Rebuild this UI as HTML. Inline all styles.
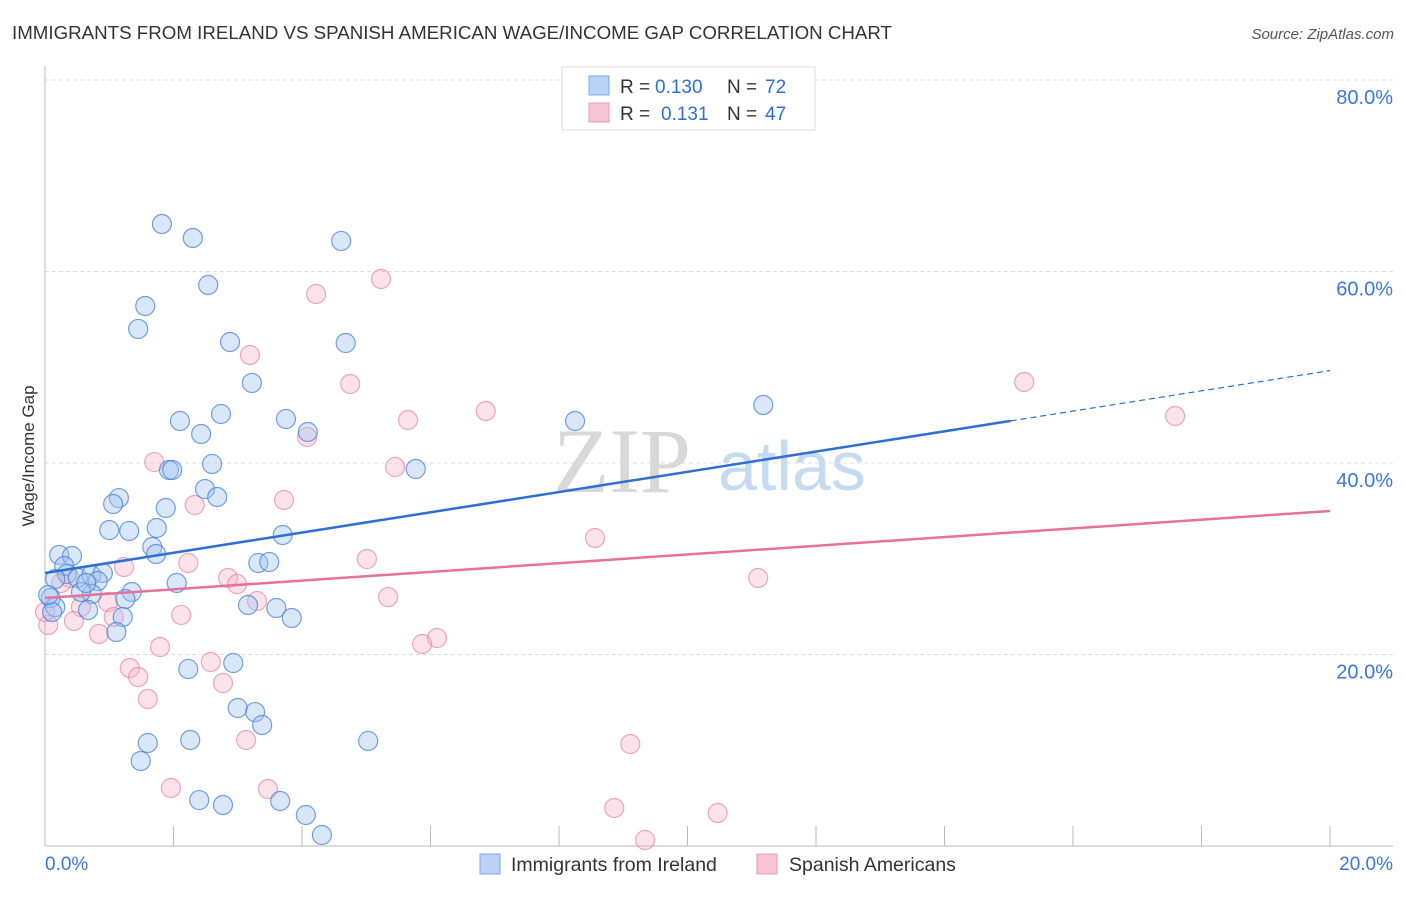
<!DOCTYPE html>
<html><head><meta charset="utf-8"><style>
body{margin:0;background:#fff;font-family:"Liberation Sans",sans-serif;}
svg text{font-family:"Liberation Sans",sans-serif;}
</style></head><body>
<svg id="chart" width="1406" height="892" xmlns="http://www.w3.org/2000/svg">
<text x="12" y="39" font-size="18" fill="#333" textLength="880" lengthAdjust="spacingAndGlyphs">IMMIGRANTS FROM IRELAND VS SPANISH AMERICAN WAGE/INCOME GAP CORRELATION CHART</text>
<text x="1394" y="39" font-size="15" fill="#555" text-anchor="end" font-style="italic">Source: ZipAtlas.com</text>
<g>
<text x="553" y="492" font-size="92" fill="#d8d8d8" style="font-family:'Liberation Serif',serif">ZIP</text>
<text x="718" y="490" font-size="70" fill="#c5dbf2">atlas</text>
</g>
<g id="grid"></g>
<g id="axes"></g>
<g id="lines"></g>
<g id="points"></g>
<text transform="translate(34,456) rotate(-90)" font-size="17" fill="#333" text-anchor="middle">Wage/Income Gap</text>
<g>
<rect x="562" y="67" width="253" height="63" fill="#fff" stroke="#ddd"/>
<rect x="589" y="76" width="20" height="19" fill="#b8d3f5" stroke="#7aa9e6"/>
<rect x="589" y="103" width="20" height="19" fill="#f8c4d4" stroke="#ee9ab5"/>
<text x="620" y="93" font-size="19" fill="#333">R = <tspan x="655" fill="#2e6fd6">0.130</tspan><tspan x="727">N = </tspan><tspan x="765" fill="#2e6fd6">72</tspan></text>
<text x="620" y="120" font-size="19" fill="#333">R = <tspan x="661" fill="#2e6fd6">0.131</tspan><tspan x="727">N = </tspan><tspan x="765" fill="#2e6fd6">47</tspan></text>
</g>
<g>
<rect x="480" y="854" width="20" height="20" fill="#b8d3f5" stroke="#7aa9e6"/>
<text x="511" y="871" font-size="19.5" fill="#333">Immigrants from Ireland</text>
<rect x="757" y="854" width="20" height="20" fill="#f8c4d4" stroke="#ee9ab5"/>
<text x="789" y="871" font-size="19.5" fill="#333">Spanish Americans</text>
</g>
</svg>
<script>
const blueX=[1.82,2.30,4.61,2.54,1.56,1.45,2.88,4.68,3.22,2.10,3.75,2.74,4.09,2.43,2.60,1.93,1.98,5.77,2.49,2.68,1.15,1.06,1.88,1.00,1.31,1.74,1.67,1.73,3.70,0.22,0.42,0.30,0.34,0.16,0.51,0.72,0.90,0.82,2.05,1.35,0.73,0.56,1.25,0.09,0.16,0.67,0.11,1.21,3.16,3.60,3.84,3.32,3.49,1.11,2.23,2.93,1.60,1.49,2.26,3.00,3.27,3.38,5.03,2.40,2.77,3.66,4.06,4.31,11.18,8.25,0.64,0.05];
const blueY=[64.96,63.5,63.19,58.59,56.4,54.0,52.64,52.53,48.36,44.39,44.6,45.12,43.24,43.03,39.9,39.27,39.27,39.37,37.28,36.45,36.34,35.72,35.3,33.0,32.9,33.21,31.23,30.5,32.48,30.4,30.29,29.24,28.41,27.89,27.99,28.3,28.51,27.68,27.47,26.53,26.32,26.53,25.8,25.9,24.96,24.65,24.44,23.92,25.17,24.86,23.81,29.56,29.66,22.35,18.49,19.11,10.76,8.88,11.07,14.41,13.99,12.64,10.97,4.8,4.28,4.7,3.24,1.15,46.06,44.39,27.47,26.21];
const pinkX=[5.23,4.22,3.19,4.75,6.86,5.65,4.08,1.70,5.45,2.33,3.72,8.56,5.01,2.23,1.23,2.85,2.99,0.39,0.25,0.56,5.34,3.30,0.98,2.12,1.07,0.45,0.84,6.10,5.87,0.05,1.79,2.58,1.32,1.45,2.77,1.60,3.13,9.11,15.24,17.59,11.10,1.96,3.47,8.86,10.47,9.34,0.0];
const pinkY=[59.22,57.65,51.28,48.25,45.43,44.49,42.72,40.1,39.58,35.61,36.14,32.17,29.97,29.56,29.14,27.99,27.36,27.99,27.47,24.96,26.0,25.59,25.48,24.13,23.92,23.5,22.14,21.72,21.1,23.08,20.78,19.22,18.59,17.65,17.02,15.35,11.07,10.65,48.46,44.91,27.99,6.06,5.95,3.97,3.45,0.63,24.44];
const yTicks=[20,40,60,80];
const yTickLabels=["20.0%","40.0%","60.0%","80.0%"];
const blueTrend=[28.51,1.057,15.03];
const pinkTrend=[25.9,0.4545];
const NS="http://www.w3.org/2000/svg";
const X=v=>45+v*64.25, Y=v=>846-v*9.575;
function mk(t,a,p){const e=document.createElementNS(NS,t);for(const k in a)e.setAttribute(k,a[k]);p.appendChild(e);return e;}
const grid=document.getElementById('grid'),axes=document.getElementById('axes'),lines=document.getElementById('lines'),pts=document.getElementById('points');
yTicks.forEach((t,i)=>{
 const l=mk('line',{x1:45,x2:1393,y1:Y(t),y2:Y(t),stroke:'#ddd','stroke-dasharray':'4,3'},grid);
 
 
 const tx=mk('text',{x:1393,y:Y(t)+24,'font-size':20,fill:'#3a78d8','text-anchor':'end'},grid);
 tx.textContent=yTickLabels[i];
 
 
});
mk('line',{x1:45,x2:45,y1:66,y2:846,stroke:'#bbb'},axes);
mk('line',{x1:45,x2:1393,y1:846,y2:846,stroke:'#bbb'},axes);
for(let i=1;i<=10;i++){mk('line',{x1:X(i*2),x2:X(i*2),y1:826,y2:846,stroke:'#bbb'},axes);}
const x0=mk('text',{x:45,y:870,'font-size':19,fill:'#3a78d8'},axes);x0.textContent='0.0%';


const x1=mk('text',{x:1393,y:870,'font-size':19,fill:'#3a78d8','text-anchor':'end'},axes);x1.textContent='20.0%';


function dot(x,y,fill,stroke,name){const c=mk('circle',{cx:X(x),cy:Y(y),r:9.5,fill:fill,stroke:stroke,'stroke-width':1.2},pts);
 
 }
pinkX.forEach((x,i)=>dot(x,pinkY[i],'rgba(246,176,198,0.35)','rgba(232,130,165,0.7)','spanish-point'));
blueX.forEach((x,i)=>dot(x,blueY[i],'rgba(160,196,240,0.4)','rgba(70,130,215,0.75)','ireland-point'));
const bs=mk('line',{x1:X(0),y1:Y(blueTrend[0]),x2:X(blueTrend[2]),y2:Y(blueTrend[0]+blueTrend[1]*blueTrend[2]),stroke:'#2e6fd6','stroke-width':2.5},lines);


const bd=mk('line',{x1:X(blueTrend[2]),y1:Y(blueTrend[0]+blueTrend[1]*blueTrend[2]),x2:X(20),y2:Y(blueTrend[0]+blueTrend[1]*20),stroke:'#2e6fd6','stroke-width':1.2,'stroke-dasharray':'6,4'},lines);


const pl=mk('line',{x1:X(0),y1:Y(pinkTrend[0]),x2:X(20),y2:Y(pinkTrend[0]+pinkTrend[1]*20),stroke:'#e8709a','stroke-width':2.5},lines);


document.getElementById('chart').appendChild(lines);
</script>
</body></html>
